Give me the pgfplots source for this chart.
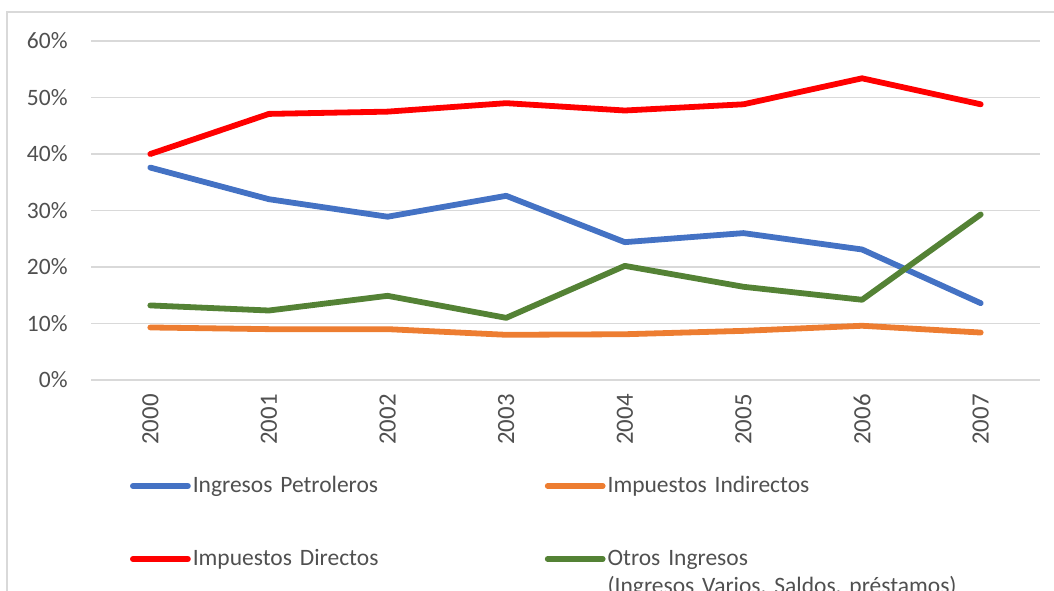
\documentclass[border=0pt]{standalone}
\usepackage{pgfplots}
\pgfplotsset{compat=1.18}
\usepackage{fontspec}
\setmainfont{Carlito}
\definecolor{cblue}{HTML}{4472C4}
\definecolor{corange}{HTML}{ED7D31}
\definecolor{cred}{HTML}{FF0000}
\definecolor{cgreen}{HTML}{548235}
\definecolor{gridc}{HTML}{D9D9D9}
\definecolor{textc}{HTML}{505050}
\begin{document}
\fontsize{11.75}{14}\selectfont
\begin{tikzpicture}
\useasboundingbox (0,0) rectangle (527pt,295pt);
\clip (0,0) rectangle (527pt,295pt);
\draw[gridc, line width=0.6pt] (3.5pt,-10pt) -- (3.5pt,289pt) -- (540pt,289pt);
\begin{axis}[
  at={(45.5pt,105pt)}, anchor=south west,
  width=474.5pt, height=169.5pt, scale only axis,
  xmin=-0.5, xmax=7.5, ymin=0, ymax=60,
  xtick={0,...,7},
  xticklabels={2000,2001,2002,2003,2004,2005,2006,2007},
  ytick={0,10,20,30,40,50,60},
  yticklabel={\pgfmathprintnumber{\tick}\%},
  /pgf/number format/assume math mode=true,
  axis line style={draw=none},
  major tick length=0pt,
  ymajorgrids, grid style={gridc, line width=0.75pt},
  tick label style={text=textc, font=\fontsize{11.75}{14}\selectfont},
  yticklabel style={anchor=east, inner sep=0pt, xshift=-11.5pt},
  xticklabel style={rotate=90, anchor=east, inner sep=0pt, xshift=-7pt, font=\fontsize{12.4}{14}\selectfont},
  clip=false,
  legend columns=2,
  legend cell align=left,
  legend image code/.code={\path (0pt,0pt) -- (27.5pt,0pt); \draw[#1, line cap=round] (1.3pt,0pt) -- (26.2pt,0pt);},
  legend style={draw=none, fill=none, inner sep=0pt, outer sep=0pt,
    at={(axis description cs:0,0)}, anchor=north west, xshift=19.5pt, yshift=-47pt,
    row sep=24.5pt,
    font=\fontsize{11.75}{14}\selectfont,
    nodes={inner sep=0pt, text=textc, text height=9pt, text depth=3pt},
    /tikz/every odd column/.append style={column sep=1pt},
    /tikz/every even column/.append style={text width=176pt}},
]
\addplot[cblue, line width=2.9pt, line join=round, line cap=round] coordinates {
  (0,37.6) (1,32.0) (2,28.9) (3,32.6) (4,24.4) (5,26.0) (6,23.1) (7,13.6)};
\addlegendentry{Ingresos Petroleros}
\addplot[corange, line width=2.9pt, line join=round, line cap=round] coordinates {
  (0,9.3) (1,9.0) (2,9.0) (3,8.0) (4,8.1) (5,8.7) (6,9.6) (7,8.4)};
\addlegendentry{Impuestos Indirectos}
\addplot[cred, line width=2.9pt, line join=round, line cap=round] coordinates {
  (0,40.0) (1,47.1) (2,47.5) (3,49.0) (4,47.7) (5,48.8) (6,53.4) (7,48.8)};
\addlegendentry{Impuestos Directos}
\addplot[cgreen, line width=2.9pt, line join=round, line cap=round] coordinates {
  (0,13.2) (1,12.3) (2,14.9) (3,11.0) (4,20.2) (5,16.5) (6,14.2) (7,29.3)};
\addlegendentry{\begin{tabular}[t]{@{}l@{}}Otros Ingresos\\(Ingresos Varios, Saldos, préstamos)\end{tabular}}
\end{axis}
\end{tikzpicture}
\end{document}
